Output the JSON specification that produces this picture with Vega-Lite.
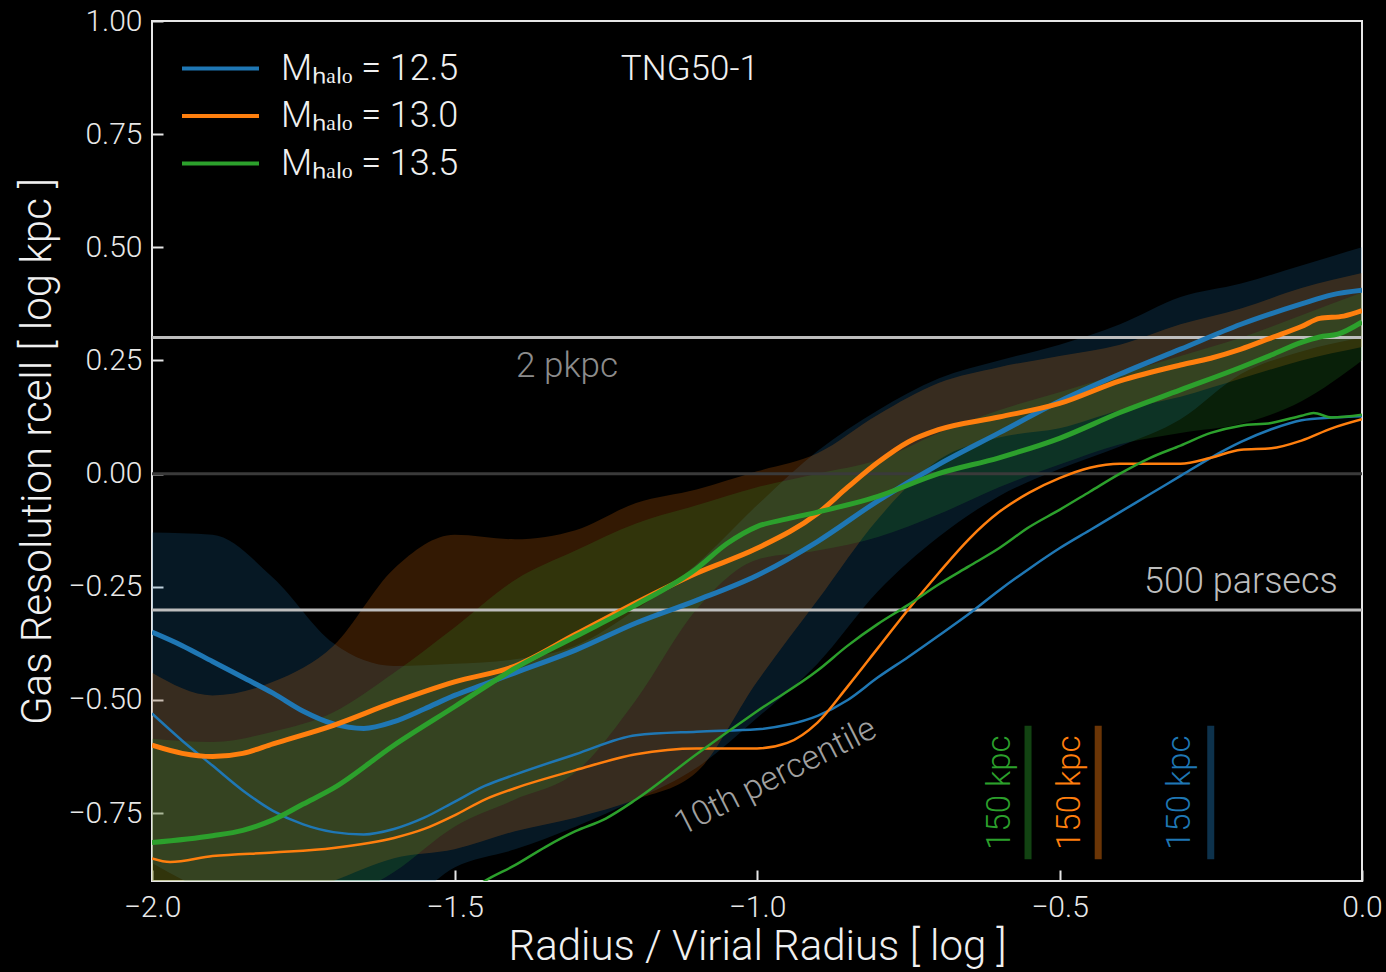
{
  "$schema": "https://vega.github.io/schema/vega-lite/v6.json",
  "width": 1210,
  "height": 860,
  "autosize": {"type": "none"},
  "padding": {"left": 152, "top": 21, "right": 24, "bottom": 91},
  "background": "black",
  "config": {
    "view": {"stroke": "#e6e6e6", "strokeWidth": 2},
    "font": "Roboto",
    "axis": {
      "domain": false,
      "grid": false,
      "tickColor": "#e6e6e6",
      "tickWidth": 2,
      "tickSize": -11,
      "labelColor": "#e8e8e8",
      "labelFontSize": 30,
      "labelFontWeight": 300,
      "titleColor": "#f0f0f0",
      "titleFontSize": 42,
      "titleFontWeight": 300,
      "labelFlush": false,
      "labelOverlap": false,
      "labelBound": false
    },
    "legend": {
      "labelColor": "#f0f0f0",
      "labelFontSize": 36,
      "labelFontWeight": 300,
      "labelLimit": 600
    }
  },
  "resolve": {"legend": {"color": "independent"}},
  "datasets": {
    "med": [
      {"m": "12.5", "x": -2.0, "y": -0.35},
      {"m": "12.5", "x": -1.95, "y": -0.38},
      {"m": "12.5", "x": -1.9, "y": -0.415},
      {"m": "12.5", "x": -1.85, "y": -0.45},
      {"m": "12.5", "x": -1.8, "y": -0.485},
      {"m": "12.5", "x": -1.75, "y": -0.525},
      {"m": "12.5", "x": -1.7, "y": -0.553},
      {"m": "12.5", "x": -1.65, "y": -0.563},
      {"m": "12.5", "x": -1.6, "y": -0.548},
      {"m": "12.5", "x": -1.55, "y": -0.52},
      {"m": "12.5", "x": -1.5, "y": -0.49},
      {"m": "12.5", "x": -1.45, "y": -0.465},
      {"m": "12.5", "x": -1.4, "y": -0.44},
      {"m": "12.5", "x": -1.3, "y": -0.39},
      {"m": "12.5", "x": -1.2, "y": -0.33},
      {"m": "12.5", "x": -1.1, "y": -0.28},
      {"m": "12.5", "x": -1.0, "y": -0.225},
      {"m": "12.5", "x": -0.9, "y": -0.15},
      {"m": "12.5", "x": -0.8, "y": -0.06},
      {"m": "12.5", "x": -0.7, "y": 0.02},
      {"m": "12.5", "x": -0.6, "y": 0.09},
      {"m": "12.5", "x": -0.5, "y": 0.16},
      {"m": "12.5", "x": -0.4, "y": 0.22},
      {"m": "12.5", "x": -0.3, "y": 0.275},
      {"m": "12.5", "x": -0.2, "y": 0.33},
      {"m": "12.5", "x": -0.1, "y": 0.375},
      {"m": "12.5", "x": -0.05, "y": 0.395},
      {"m": "12.5", "x": 0.0, "y": 0.405},
      {"m": "13.0", "x": -2.0, "y": -0.6},
      {"m": "13.0", "x": -1.95, "y": -0.618},
      {"m": "13.0", "x": -1.9, "y": -0.625},
      {"m": "13.0", "x": -1.85, "y": -0.618},
      {"m": "13.0", "x": -1.8, "y": -0.597},
      {"m": "13.0", "x": -1.7, "y": -0.556},
      {"m": "13.0", "x": -1.6, "y": -0.505},
      {"m": "13.0", "x": -1.5, "y": -0.46},
      {"m": "13.0", "x": -1.4, "y": -0.425},
      {"m": "13.0", "x": -1.3, "y": -0.355},
      {"m": "13.0", "x": -1.2, "y": -0.285},
      {"m": "13.0", "x": -1.1, "y": -0.22},
      {"m": "13.0", "x": -1.0, "y": -0.165},
      {"m": "13.0", "x": -0.9, "y": -0.088},
      {"m": "13.0", "x": -0.85, "y": -0.03},
      {"m": "13.0", "x": -0.8, "y": 0.025},
      {"m": "13.0", "x": -0.75, "y": 0.07},
      {"m": "13.0", "x": -0.7, "y": 0.097},
      {"m": "13.0", "x": -0.6, "y": 0.125},
      {"m": "13.0", "x": -0.5, "y": 0.155},
      {"m": "13.0", "x": -0.4, "y": 0.205},
      {"m": "13.0", "x": -0.3, "y": 0.24},
      {"m": "13.0", "x": -0.25, "y": 0.255},
      {"m": "13.0", "x": -0.2, "y": 0.275},
      {"m": "13.0", "x": -0.15, "y": 0.3},
      {"m": "13.0", "x": -0.1, "y": 0.325},
      {"m": "13.0", "x": -0.07, "y": 0.343},
      {"m": "13.0", "x": -0.03, "y": 0.348},
      {"m": "13.0", "x": 0.0, "y": 0.36},
      {"m": "13.5", "x": -2.0, "y": -0.815},
      {"m": "13.5", "x": -1.9, "y": -0.8},
      {"m": "13.5", "x": -1.85, "y": -0.788},
      {"m": "13.5", "x": -1.8, "y": -0.765},
      {"m": "13.5", "x": -1.75, "y": -0.73},
      {"m": "13.5", "x": -1.7, "y": -0.695},
      {"m": "13.5", "x": -1.6, "y": -0.6},
      {"m": "13.5", "x": -1.5, "y": -0.515},
      {"m": "13.5", "x": -1.4, "y": -0.43},
      {"m": "13.5", "x": -1.3, "y": -0.36},
      {"m": "13.5", "x": -1.2, "y": -0.29},
      {"m": "13.5", "x": -1.1, "y": -0.21},
      {"m": "13.5", "x": -1.05, "y": -0.155},
      {"m": "13.5", "x": -1.0, "y": -0.117},
      {"m": "13.5", "x": -0.95, "y": -0.1},
      {"m": "13.5", "x": -0.9, "y": -0.085},
      {"m": "13.5", "x": -0.8, "y": -0.05},
      {"m": "13.5", "x": -0.7, "y": 0.0},
      {"m": "13.5", "x": -0.6, "y": 0.035},
      {"m": "13.5", "x": -0.5, "y": 0.078},
      {"m": "13.5", "x": -0.4, "y": 0.135},
      {"m": "13.5", "x": -0.3, "y": 0.185},
      {"m": "13.5", "x": -0.2, "y": 0.235},
      {"m": "13.5", "x": -0.15, "y": 0.262},
      {"m": "13.5", "x": -0.1, "y": 0.29},
      {"m": "13.5", "x": -0.07, "y": 0.302},
      {"m": "13.5", "x": -0.04, "y": 0.308},
      {"m": "13.5", "x": 0.0, "y": 0.335}
    ],
    "p10": [
      {"m": "12.5", "x": -2.0, "y": -0.53},
      {"m": "12.5", "x": -1.95, "y": -0.59},
      {"m": "12.5", "x": -1.9, "y": -0.645},
      {"m": "12.5", "x": -1.85, "y": -0.7},
      {"m": "12.5", "x": -1.8, "y": -0.745},
      {"m": "12.5", "x": -1.75, "y": -0.775},
      {"m": "12.5", "x": -1.7, "y": -0.792},
      {"m": "12.5", "x": -1.65, "y": -0.797},
      {"m": "12.5", "x": -1.6, "y": -0.785},
      {"m": "12.5", "x": -1.55, "y": -0.76},
      {"m": "12.5", "x": -1.5, "y": -0.725},
      {"m": "12.5", "x": -1.45, "y": -0.69},
      {"m": "12.5", "x": -1.4, "y": -0.665},
      {"m": "12.5", "x": -1.3, "y": -0.62},
      {"m": "12.5", "x": -1.2, "y": -0.578},
      {"m": "12.5", "x": -1.1, "y": -0.57},
      {"m": "12.5", "x": -1.0, "y": -0.565},
      {"m": "12.5", "x": -0.95, "y": -0.555},
      {"m": "12.5", "x": -0.9, "y": -0.535},
      {"m": "12.5", "x": -0.85, "y": -0.5},
      {"m": "12.5", "x": -0.8, "y": -0.45},
      {"m": "12.5", "x": -0.75, "y": -0.405},
      {"m": "12.5", "x": -0.7, "y": -0.358},
      {"m": "12.5", "x": -0.65, "y": -0.31},
      {"m": "12.5", "x": -0.6, "y": -0.258},
      {"m": "12.5", "x": -0.55, "y": -0.21},
      {"m": "12.5", "x": -0.5, "y": -0.165},
      {"m": "12.5", "x": -0.45, "y": -0.125},
      {"m": "12.5", "x": -0.4, "y": -0.085},
      {"m": "12.5", "x": -0.35, "y": -0.045},
      {"m": "12.5", "x": -0.3, "y": -0.005},
      {"m": "12.5", "x": -0.25, "y": 0.035},
      {"m": "12.5", "x": -0.2, "y": 0.07},
      {"m": "12.5", "x": -0.15, "y": 0.098},
      {"m": "12.5", "x": -0.1, "y": 0.118},
      {"m": "12.5", "x": -0.05, "y": 0.124},
      {"m": "12.5", "x": 0.0, "y": 0.127},
      {"m": "13.0", "x": -2.0, "y": -0.85},
      {"m": "13.0", "x": -1.97, "y": -0.858},
      {"m": "13.0", "x": -1.9, "y": -0.845},
      {"m": "13.0", "x": -1.8, "y": -0.837},
      {"m": "13.0", "x": -1.7, "y": -0.827},
      {"m": "13.0", "x": -1.6, "y": -0.805},
      {"m": "13.0", "x": -1.55, "y": -0.785},
      {"m": "13.0", "x": -1.5, "y": -0.755},
      {"m": "13.0", "x": -1.45, "y": -0.72},
      {"m": "13.0", "x": -1.4, "y": -0.695},
      {"m": "13.0", "x": -1.3, "y": -0.655},
      {"m": "13.0", "x": -1.2, "y": -0.62},
      {"m": "13.0", "x": -1.1, "y": -0.607},
      {"m": "13.0", "x": -1.0, "y": -0.607},
      {"m": "13.0", "x": -0.95, "y": -0.595},
      {"m": "13.0", "x": -0.9, "y": -0.55},
      {"m": "13.0", "x": -0.85, "y": -0.47},
      {"m": "13.0", "x": -0.8, "y": -0.385},
      {"m": "13.0", "x": -0.75, "y": -0.3},
      {"m": "13.0", "x": -0.7, "y": -0.22},
      {"m": "13.0", "x": -0.65, "y": -0.145},
      {"m": "13.0", "x": -0.6, "y": -0.085},
      {"m": "13.0", "x": -0.55, "y": -0.042},
      {"m": "13.0", "x": -0.5, "y": -0.01},
      {"m": "13.0", "x": -0.45, "y": 0.013},
      {"m": "13.0", "x": -0.4, "y": 0.022},
      {"m": "13.0", "x": -0.35, "y": 0.022},
      {"m": "13.0", "x": -0.3, "y": 0.022},
      {"m": "13.0", "x": -0.25, "y": 0.035},
      {"m": "13.0", "x": -0.2, "y": 0.053},
      {"m": "13.0", "x": -0.15, "y": 0.056},
      {"m": "13.0", "x": -0.1, "y": 0.073},
      {"m": "13.0", "x": -0.05, "y": 0.1},
      {"m": "13.0", "x": 0.0, "y": 0.12},
      {"m": "13.5", "x": -1.5, "y": -0.95},
      {"m": "13.5", "x": -1.45, "y": -0.9},
      {"m": "13.5", "x": -1.4, "y": -0.865},
      {"m": "13.5", "x": -1.35, "y": -0.825},
      {"m": "13.5", "x": -1.3, "y": -0.79},
      {"m": "13.5", "x": -1.25, "y": -0.762},
      {"m": "13.5", "x": -1.2, "y": -0.72},
      {"m": "13.5", "x": -1.1, "y": -0.62},
      {"m": "13.5", "x": -1.0, "y": -0.525},
      {"m": "13.5", "x": -0.9, "y": -0.435},
      {"m": "13.5", "x": -0.85, "y": -0.38},
      {"m": "13.5", "x": -0.8, "y": -0.332},
      {"m": "13.5", "x": -0.75, "y": -0.29},
      {"m": "13.5", "x": -0.7, "y": -0.245},
      {"m": "13.5", "x": -0.65, "y": -0.205},
      {"m": "13.5", "x": -0.6, "y": -0.165},
      {"m": "13.5", "x": -0.55, "y": -0.118},
      {"m": "13.5", "x": -0.5, "y": -0.08},
      {"m": "13.5", "x": -0.45, "y": -0.04},
      {"m": "13.5", "x": -0.4, "y": 0.0},
      {"m": "13.5", "x": -0.35, "y": 0.035},
      {"m": "13.5", "x": -0.3, "y": 0.062},
      {"m": "13.5", "x": -0.25, "y": 0.09},
      {"m": "13.5", "x": -0.2, "y": 0.106},
      {"m": "13.5", "x": -0.15, "y": 0.112},
      {"m": "13.5", "x": -0.1, "y": 0.128},
      {"m": "13.5", "x": -0.08, "y": 0.134},
      {"m": "13.5", "x": -0.05, "y": 0.124},
      {"m": "13.5", "x": 0.0, "y": 0.13}
    ],
    "bands": [
      {"m": "12.5", "x": -2.0, "lo": -0.86, "hi": -0.13},
      {"m": "12.5", "x": -1.9, "lo": -0.93, "hi": -0.135},
      {"m": "12.5", "x": -1.8, "lo": -0.98, "hi": -0.23},
      {"m": "12.5", "x": -1.7, "lo": -1.0, "hi": -0.375},
      {"m": "12.5", "x": -1.6, "lo": -0.97, "hi": -0.425},
      {"m": "12.5", "x": -1.5, "lo": -0.87, "hi": -0.42},
      {"m": "12.5", "x": -1.4, "lo": -0.83, "hi": -0.41},
      {"m": "12.5", "x": -1.3, "lo": -0.78, "hi": -0.38},
      {"m": "12.5", "x": -1.2, "lo": -0.72, "hi": -0.3},
      {"m": "12.5", "x": -1.1, "lo": -0.65, "hi": -0.2},
      {"m": "12.5", "x": -1.0, "lo": -0.54, "hi": -0.07},
      {"m": "12.5", "x": -0.9, "lo": -0.42, "hi": 0.05},
      {"m": "12.5", "x": -0.8, "lo": -0.26, "hi": 0.14},
      {"m": "12.5", "x": -0.7, "lo": -0.14, "hi": 0.21},
      {"m": "12.5", "x": -0.6, "lo": -0.05, "hi": 0.25},
      {"m": "12.5", "x": -0.5, "lo": 0.01, "hi": 0.285},
      {"m": "12.5", "x": -0.4, "lo": 0.06, "hi": 0.33},
      {"m": "12.5", "x": -0.3, "lo": 0.12, "hi": 0.39},
      {"m": "12.5", "x": -0.2, "lo": 0.22, "hi": 0.42},
      {"m": "12.5", "x": -0.1, "lo": 0.27, "hi": 0.46},
      {"m": "12.5", "x": 0.0, "lo": 0.3, "hi": 0.5},
      {"m": "13.0", "x": -2.0, "lo": -0.95, "hi": -0.44},
      {"m": "13.0", "x": -1.9, "lo": -0.97, "hi": -0.49},
      {"m": "13.0", "x": -1.8, "lo": -0.95, "hi": -0.46},
      {"m": "13.0", "x": -1.7, "lo": -0.9, "hi": -0.38},
      {"m": "13.0", "x": -1.6, "lo": -0.85, "hi": -0.21},
      {"m": "13.0", "x": -1.5, "lo": -0.83, "hi": -0.135},
      {"m": "13.0", "x": -1.4, "lo": -0.79, "hi": -0.145},
      {"m": "13.0", "x": -1.3, "lo": -0.76, "hi": -0.125},
      {"m": "13.0", "x": -1.2, "lo": -0.72, "hi": -0.065},
      {"m": "13.0", "x": -1.1, "lo": -0.66, "hi": -0.035},
      {"m": "13.0", "x": -1.0, "lo": -0.46, "hi": 0.005},
      {"m": "13.0", "x": -0.9, "lo": -0.28, "hi": 0.045},
      {"m": "13.0", "x": -0.8, "lo": -0.1, "hi": 0.13},
      {"m": "13.0", "x": -0.7, "lo": 0.03, "hi": 0.2},
      {"m": "13.0", "x": -0.6, "lo": 0.08, "hi": 0.235},
      {"m": "13.0", "x": -0.5, "lo": 0.1, "hi": 0.26},
      {"m": "13.0", "x": -0.4, "lo": 0.14, "hi": 0.285},
      {"m": "13.0", "x": -0.3, "lo": 0.17, "hi": 0.33},
      {"m": "13.0", "x": -0.2, "lo": 0.21, "hi": 0.365},
      {"m": "13.0", "x": -0.1, "lo": 0.25, "hi": 0.41},
      {"m": "13.0", "x": 0.0, "lo": 0.28, "hi": 0.443},
      {"m": "13.5", "x": -2.0, "lo": -1.0, "hi": -0.586},
      {"m": "13.5", "x": -1.9, "lo": -1.0, "hi": -0.593},
      {"m": "13.5", "x": -1.8, "lo": -1.0, "hi": -0.57},
      {"m": "13.5", "x": -1.7, "lo": -0.95, "hi": -0.527},
      {"m": "13.5", "x": -1.6, "lo": -0.88, "hi": -0.44},
      {"m": "13.5", "x": -1.5, "lo": -0.78, "hi": -0.34},
      {"m": "13.5", "x": -1.4, "lo": -0.72, "hi": -0.235},
      {"m": "13.5", "x": -1.3, "lo": -0.66, "hi": -0.17},
      {"m": "13.5", "x": -1.2, "lo": -0.5, "hi": -0.11},
      {"m": "13.5", "x": -1.1, "lo": -0.3, "hi": -0.07},
      {"m": "13.5", "x": -1.0, "lo": -0.19, "hi": -0.03},
      {"m": "13.5", "x": -0.9, "lo": -0.17, "hi": 0.0},
      {"m": "13.5", "x": -0.8, "lo": -0.14, "hi": 0.03},
      {"m": "13.5", "x": -0.7, "lo": -0.09, "hi": 0.09},
      {"m": "13.5", "x": -0.6, "lo": -0.03, "hi": 0.14},
      {"m": "13.5", "x": -0.5, "lo": 0.02, "hi": 0.18},
      {"m": "13.5", "x": -0.4, "lo": 0.065, "hi": 0.22},
      {"m": "13.5", "x": -0.3, "lo": 0.09, "hi": 0.26},
      {"m": "13.5", "x": -0.2, "lo": 0.11, "hi": 0.3},
      {"m": "13.5", "x": -0.1, "lo": 0.16, "hi": 0.35},
      {"m": "13.5", "x": 0.0, "lo": 0.25, "hi": 0.4}
    ],
    "kpc": [
      {"m": "12.5", "x": -0.25, "xl": -0.301, "y1": -0.557, "y2": -0.852, "yl": -0.705, "t": "150 kpc"},
      {"m": "13.0", "x": -0.436, "xl": -0.483, "y1": -0.557, "y2": -0.852, "yl": -0.705, "t": "150 kpc"},
      {"m": "13.5", "x": -0.552, "xl": -0.598, "y1": -0.557, "y2": -0.852, "yl": -0.705, "t": "150 kpc"}
    ]
  },
  "layer": [
    {
      "data": {"name": "bands"},
      "mark": {"type": "area", "opacity": 0.2, "clip": true, "interpolate": "monotone"},
      "encoding": {
        "x": {"field": "x", "type": "quantitative", "scale": {"domain": [-2, 0], "nice": false, "zero": false},
          "axis": {"title": "Radius / Virial Radius [ log ]", "values": [-2, -1.5, -1, -0.5, 0], "format": ".1f", "labelPadding": 22, "titlePadding": 4}},
        "y": {"field": "lo", "type": "quantitative", "scale": {"domain": [-0.9, 1.0], "nice": false, "zero": false},
          "axis": {"title": "Gas Resolution rcell [ log kpc ]", "values": [-0.75, -0.5, -0.25, 0, 0.25, 0.5, 0.75, 1.0], "format": ".2f", "labelPadding": 21, "titlePadding": 8}},
        "y2": {"field": "hi"},
        "color": {"field": "m", "type": "nominal", "scale": {"domain": ["12.5", "13.0", "13.5"], "range": ["#1f77b4", "#ff7f0e", "#2ca02c"]}, "legend": null}
      }
    },
    {
      "data": {"values": [{"y": 0}]},
      "mark": {"type": "rule", "color": "#3a3a3a", "strokeWidth": 3},
      "encoding": {"y": {"field": "y", "type": "quantitative"}}
    },
    {
      "data": {"values": [{"y": 0.30103}, {"y": -0.30103}]},
      "mark": {"type": "rule", "color": "#bdbdbd", "strokeWidth": 3},
      "encoding": {"y": {"field": "y", "type": "quantitative"}}
    },
    {
      "data": {"name": "p10"},
      "mark": {"type": "line", "strokeWidth": 2.5, "clip": true, "interpolate": "monotone"},
      "encoding": {
        "x": {"field": "x", "type": "quantitative"},
        "y": {"field": "y", "type": "quantitative"},
        "color": {"field": "m", "type": "nominal", "legend": null},
        "detail": {"field": "m"}
      }
    },
    {
      "data": {"name": "med"},
      "mark": {"type": "line", "strokeWidth": 5, "clip": true, "interpolate": "monotone"},
      "encoding": {
        "x": {"field": "x", "type": "quantitative"},
        "y": {"field": "y", "type": "quantitative"},
        "color": {"field": "m", "type": "nominal",
          "legend": {"title": null, "orient": "none", "legendX": 47, "legendY": 26, "symbolType": "M-2,0H2", "symbolFillColor": "transparent", "symbolStrokeWidth": 4, "symbolSize": 1482, "symbolOpacity": 1, "rowPadding": 7.5, "labelOffset": 39, "labelExpr": "'Mₕₐₗₒ = ' + datum.label"}}
      }
    },
    {
      "data": {"name": "kpc"},
      "mark": {"type": "rule", "strokeWidth": 7, "opacity": 0.42},
      "encoding": {
        "x": {"field": "x", "type": "quantitative"},
        "y": {"field": "y1", "type": "quantitative"},
        "y2": {"field": "y2"},
        "color": {"field": "m", "type": "nominal", "legend": null}
      }
    },
    {
      "data": {"name": "kpc"},
      "mark": {"type": "text", "angle": 270, "fontSize": 33, "fontWeight": 300, "align": "center", "baseline": "middle"},
      "encoding": {
        "x": {"field": "xl", "type": "quantitative"},
        "y": {"field": "yl", "type": "quantitative"},
        "text": {"field": "t"},
        "color": {"field": "m", "type": "nominal", "legend": null}
      }
    },
    {
      "data": {"values": [{"x": -1.111, "y": 0.894, "t": "TNG50-1"}]},
      "mark": {"type": "text", "fontSize": 35, "fontWeight": 300, "color": "#f0f0f0", "align": "center", "baseline": "middle"},
      "encoding": {"x": {"field": "x", "type": "quantitative"}, "y": {"field": "y", "type": "quantitative"}, "text": {"field": "t"}}
    },
    {
      "data": {"values": [{"x": -1.314, "y": 0.238, "t": "2 pkpc"}]},
      "mark": {"type": "text", "fontSize": 35, "fontWeight": 300, "color": "#8c8c8c", "align": "center", "baseline": "middle"},
      "encoding": {"x": {"field": "x", "type": "quantitative"}, "y": {"field": "y", "type": "quantitative"}, "text": {"field": "t"}}
    },
    {
      "data": {"values": [{"x": -0.04, "y": -0.24, "t": "500 parsecs"}]},
      "mark": {"type": "text", "fontSize": 36, "fontWeight": 300, "color": "#bdbdbd", "align": "right", "baseline": "middle"},
      "encoding": {"x": {"field": "x", "type": "quantitative"}, "y": {"field": "y", "type": "quantitative"}, "text": {"field": "t"}}
    },
    {
      "data": {"values": [{"x": -0.969, "y": -0.67, "t": "10th percentile"}]},
      "mark": {"type": "text", "fontSize": 34, "fontWeight": 300, "color": "#a0a0a0", "align": "center", "baseline": "middle", "angle": 333},
      "encoding": {"x": {"field": "x", "type": "quantitative"}, "y": {"field": "y", "type": "quantitative"}, "text": {"field": "t"}}
    }
  ]
}
